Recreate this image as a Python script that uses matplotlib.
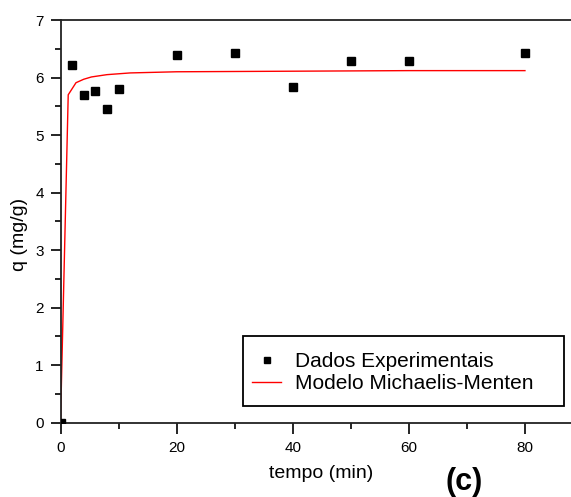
import matplotlib
matplotlib.use("Agg")
import matplotlib.pyplot as plt
from matplotlib.patches import Rectangle
from matplotlib.ticker import MultipleLocator

plt.rcParams['font.family'] = ['Liberation Sans', 'DejaVu Sans']

# experimental points
tempo = [0, 2, 4, 6, 8, 10, 20, 30, 40, 50, 60, 80]
q_exp = [0.0, 6.22, 5.70, 5.77, 5.45, 5.80, 6.39, 6.43, 5.84, 6.28, 6.29, 6.43]

# fitted Michaelis-Menten curve
tempo_mod = [0, 1.33, 2.67, 4, 5.33, 8, 12, 20, 40, 60, 80]
q_mod = [0.0, 5.70, 5.91, 5.97, 6.01, 6.05, 6.08, 6.10, 6.11, 6.12, 6.12]

W, H = 571, 497
fig = plt.figure(figsize=(W / 100, H / 100), dpi=100)
ax = fig.add_axes([60.5 / W, (H - 422.7) / H, (583 - 60.5) / W, (422.7 - 20) / H])

ax.plot(tempo, q_exp, linestyle='none', marker='s', markersize=6,
        color='black', label='Dados Experimentais', zorder=3)
ax.plot(tempo_mod, q_mod, color='red', linewidth=1.0,
        label='Modelo Michaelis-Menten', zorder=2)

ax.set_xlim(0, 90)
ax.set_ylim(0, 7)
ax.xaxis.set_major_locator(MultipleLocator(20))
ax.xaxis.set_minor_locator(MultipleLocator(10))
ax.yaxis.set_major_locator(MultipleLocator(1))
ax.yaxis.set_minor_locator(MultipleLocator(0.5))

ax.tick_params(which='major', direction='out', length=7, width=1.2, labelsize=11, pad=5)
ax.tick_params(axis='x', which='major', length=8)
ax.tick_params(which='minor', direction='out', length=4, width=1.2)
ax.tick_params(top=False, right=False, which='both')

for s in ax.spines.values():
    s.set_linewidth(1.3)
    s.set_color('#222222')

fig.text(321 / W, 1 - 474 / H, 'tempo (min)', fontsize=14, ha='center', va='center')
fig.text(20 / W, 1 - 234 / H, 'q (mg/g)', fontsize=14, ha='center', va='center',
         rotation=90)
fig.text(464.5 / W, 1 - 467 / H, '(c)', fontsize=22, fontweight='bold',
         ha='center', va='top')

# legend box drawn separately (Origin style, wide right padding)
ax.add_patch(Rectangle((243 / W, 1 - 406 / H), (564 - 243) / W, 70 / H,
                       transform=fig.transFigure, facecolor='white',
                       edgecolor='black', linewidth=1.3, zorder=4,
                       clip_on=False))
leg = ax.legend(loc='center left', bbox_to_anchor=(243 / W, 1 - 372.9 / H),
                bbox_transform=fig.transFigure, borderaxespad=0,
                fontsize=15, handlelength=1.4, handletextpad=0.65,
                borderpad=0.43, labelspacing=0.15, frameon=False,
                markerscale=0.7)
leg.set_zorder(5)

fig.savefig('out.png', dpi=100)
